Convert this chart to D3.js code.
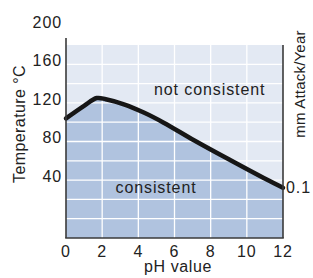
<!DOCTYPE html>
<html><head><meta charset="utf-8">
<script src="https://cdn.jsdelivr.net/npm/d3@7"></script>
<style>
html,body{margin:0;padding:0;background:#fff;}
text{font-family:"Liberation Sans",Arial,Helvetica,sans-serif;fill:#222;}
</style></head>
<body><svg id="c" width="313" height="278"></svg>
<script>
// Curve data: pH vs temperature (°C)
const curvePH   = [0, 1.0, 1.7, 2.2, 3.2, 4.3, 5.4, 7.1, 9.1, 11.1, 12];
const curveTemp = [104, 117, 125, 123.8, 118.5, 110, 99.5, 81, 60.5, 40.5, 32];
const xTicks = [0, 2, 4, 6, 8, 10, 12];
const yTicks = [40, 80, 120, 160, 200];
const gridX = [2, 4, 6, 8, 10];
const gridY = [0, 20, 40, 60, 80, 100, 120, 140, 160];
const regionLabels = ["not consistent", "consistent"];
const rightLabel = "0.1";

const svg = d3.select("#c");
const x = d3.scaleLinear().domain([0, 12]).range([66, 283]);
const y = d3.scaleLinear().domain([-20, 180]).range([238, 45]);
const data = curvePH.map((p, i) => ({p, t: curveTemp[i]}));

// background (upper region)
svg.append("rect").attr("x", x(0)).attr("y", y(180)).attr("width", x(12) - x(0)).attr("height", y(-20) - y(180)).attr("fill", "#e3e9f3");

// area under curve
const area = d3.area().x(d => x(d.p)).y0(y(-20)).y1(d => y(d.t)).curve(d3.curveCatmullRom.alpha(0.5));
svg.append("path").datum(data).attr("d", area).attr("fill", "#b0c3df");

// grid
svg.append("g").selectAll("line").data(gridX).join("line")
  .attr("x1", d => x(d)).attr("x2", d => x(d)).attr("y1", y(180)).attr("y2", y(-20))
  .attr("stroke", "#fff").attr("stroke-width", 1.3);
svg.append("g").selectAll("line").data(gridY).join("line")
  .attr("x1", x(0)).attr("x2", x(12)).attr("y1", d => y(d)).attr("y2", d => y(d))
  .attr("stroke", "#fff").attr("stroke-width", 1.3);

// curve
const line = d3.line().x(d => x(d.p)).y(d => y(d.t)).curve(d3.curveCatmullRom.alpha(0.5));
svg.append("path").datum(data).attr("d", line).attr("fill", "none")
  .attr("stroke", "#161616").attr("stroke-width", 4.5).attr("stroke-linecap", "round");

// axes lines
const axisCol = "#3a3a3a";
svg.append("line").attr("x1", x(0)).attr("x2", x(0)).attr("y1", 38).attr("y2", y(-20)).attr("stroke", axisCol).attr("stroke-width", 1.6);
svg.append("line").attr("x1", x(12)).attr("x2", x(12)).attr("y1", y(180)).attr("y2", y(-20)).attr("stroke", axisCol).attr("stroke-width", 1.6);
svg.append("line").attr("x1", x(0) - 0.8).attr("x2", x(12) + 0.8).attr("y1", y(-20)).attr("y2", y(-20)).attr("stroke", axisCol).attr("stroke-width", 1.6);

const fs = "16px", ls = "0.9px";
// x tick labels
svg.append("g").selectAll("text").data(xTicks).join("text")
  .attr("x", d => x(d)).attr("y", 256.5).attr("text-anchor", "middle")
  .style("font-size", fs).style("letter-spacing", ls).text(d => d);
// y tick labels
svg.append("g").selectAll("text").data(yTicks).join("text")
  .attr("x", 62).attr("y", d => y(d) + 1.8).attr("text-anchor", "end")
  .style("font-size", fs).style("letter-spacing", ls).text(d => d);

// axis titles
svg.append("text").attr("x", 178).attr("y", 272).attr("text-anchor", "middle")
  .style("font-size", fs).style("letter-spacing", "0.6px").text("pH value");
svg.append("text").attr("transform", "translate(25,124) rotate(-90)").attr("text-anchor", "middle")
  .style("font-size", fs).style("letter-spacing", "0.4px").text("Temperature °C");
svg.append("text").attr("transform", "translate(305,84) rotate(-90)").attr("text-anchor", "middle")
  .style("font-size", "15px").style("letter-spacing", "0.2px").text("mm Attack/Year");

// region labels
svg.append("text").attr("x", 154).attr("y", 95).style("font-size", fs).style("letter-spacing", ls).text(regionLabels[0]);
svg.append("text").attr("x", 115.5).attr("y", 193).style("font-size", fs).style("letter-spacing", ls).text(regionLabels[1]);
svg.append("text").attr("x", 286).attr("y", 193).style("font-size", fs).style("letter-spacing", ls).text(rightLabel);
</script></body></html>
